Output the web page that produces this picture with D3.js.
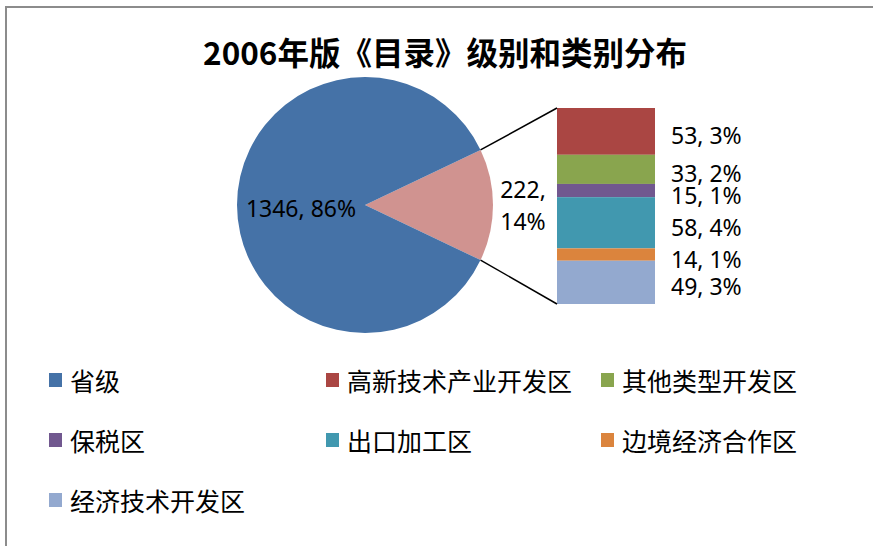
<!DOCTYPE html>
<html>
<head>
<meta charset="utf-8">
<script src="https://cdn.jsdelivr.net/npm/d3@7"></script>
<style>
  body { margin: 0; background: #fff; }
  svg text { font-family: "Noto Sans", "Noto Sans CJK SC", sans-serif; fill: #000; }
</style>
</head>
<body>
<div id="chart"></div>
<script>
const title = "2006年版《目录》级别和类别分布";
const categories = ["省级", "高新技术产业开发区", "其他类型开发区", "保税区", "出口加工区", "边境经济合作区", "经济技术开发区"];
const values = [1346, 53, 33, 15, 58, 14, 49];
const colors = ["#4572A7", "#AA4643", "#89A54E", "#71588F", "#4198AF", "#DB843D", "#93A9CF"];
const otherColor = "#D09390";

function PieOfBar() {
    const width = 873, height = 546;
    const total = d3.sum(values);
    const pct = v => Math.round(v / total * 100) + "%";

    const svg = d3.select("#chart")
        .append("svg")
        .attr("width", width)
        .attr("height", height);

    // frame
    svg.append("rect")
        .attr("x", 6).attr("y", 7)
        .attr("width", width + 20).attr("height", height + 20)
        .attr("fill", "none")
        .attr("stroke", "#8c8c8c")
        .attr("stroke-width", 2);

    svg.append("text")
        .attr("x", 445)
        .attr("y", 51)
        .attr("text-anchor", "middle")
        .attr("dominant-baseline", "central")
        .style("font-family", "'Noto Sans CJK SC', 'Noto Sans', sans-serif")
        .style("font-weight", "bold")
        .style("font-size", "31.5px")
        .text(title);

    // main pie: 省级 vs rest
    const mainValue = values[0];
    const restValues = values.slice(1);
    const restTotal = d3.sum(restValues);
    const cx = 365, cy = 205, r = 128;
    const restAngle = 2 * Math.PI * restTotal / total;
    const start = Math.PI / 2 - restAngle / 2;

    const pie = d3.pie().sort(null).value(d => d.value)
        .startAngle(start).endAngle(start + 2 * Math.PI);
    const slices = pie([
        { key: "rest", value: restTotal, color: otherColor },
        { key: "main", value: mainValue, color: colors[0] }
    ]);
    const arc = d3.arc().innerRadius(0).outerRadius(r);

    const g = svg.append("g").attr("transform", `translate(${cx},${cy})`);
    g.selectAll("path")
        .data(slices)
        .enter()
        .append("path")
        .attr("d", arc)
        .attr("fill", d => d.data.color);

    // bar of the rest
    const barX0 = 557, barX1 = 655;
    const y = d3.scaleLinear().domain([0, restTotal]).range([108, 304]);
    const stacked = [];
    let acc = 0;
    restValues.forEach((v, i) => {
        stacked.push({ v, y0: acc, y1: acc + v, color: colors[i + 1] });
        acc += v;
    });

    svg.selectAll(".seg")
        .data(stacked)
        .enter()
        .append("rect")
        .attr("class", "seg")
        .attr("x", barX0)
        .attr("y", d => y(d.y0))
        .attr("width", barX1 - barX0)
        .attr("height", d => y(d.y1) - y(d.y0))
        .attr("fill", d => d.color);

    // connector lines
    const restSlice = slices[0];
    const pt = a => [cx + r * Math.sin(a), cy - r * Math.cos(a)];
    const pTop = pt(restSlice.startAngle);
    const pBot = pt(restSlice.endAngle);
    [[pTop, [barX0, y(0)]], [pBot, [barX0, y(restTotal)]]].forEach(([a, b]) => {
        svg.append("line")
            .attr("x1", a[0]).attr("y1", a[1])
            .attr("x2", b[0]).attr("y2", b[1])
            .attr("stroke", "#000")
            .attr("stroke-width", 1.5);
    });

    // labels
    const labelSize = "23px";
    const mainC = d3.arc().innerRadius(0).outerRadius(r).centroid(slices[1]);
    g.append("text")
        .attr("x", mainC[0])
        .attr("y", mainC[1] + 3)
        .attr("text-anchor", "middle")
        .attr("dominant-baseline", "central")
        .style("font-size", labelSize)
        .text(`${mainValue}, ${pct(mainValue)}`);

    const outC = d3.arc().innerRadius(r + 30).outerRadius(r + 30).centroid(restSlice);
    const restLabel = g.append("text")
        .attr("text-anchor", "middle")
        .style("font-size", labelSize);
    restLabel.append("tspan").attr("x", outC[0]).attr("y", outC[1] - 16)
        .attr("dominant-baseline", "central").text(`${restTotal},`);
    restLabel.append("tspan").attr("x", outC[0]).attr("y", outC[1] + 16)
        .attr("dominant-baseline", "central").text(pct(restTotal));

    svg.selectAll(".seg-label")
        .data(stacked)
        .enter()
        .append("text")
        .attr("class", "seg-label")
        .attr("x", 671)
        .attr("y", d => (y(d.y0) + y(d.y1)) / 2 + 4)
        .attr("dominant-baseline", "central")
        .style("font-size", labelSize)
        .text(d => `${d.v}, ${pct(d.v)}`);

    // legend
    const colX = [49, 326, 601];
    const rowY = [380, 440, 500];
    const legend = svg.selectAll(".legend")
        .data(categories)
        .enter()
        .append("g")
        .attr("class", "legend")
        .attr("transform", (d, i) => `translate(${colX[i % 3]},${rowY[Math.floor(i / 3)]})`);
    legend.append("rect")
        .attr("x", 0).attr("y", -7)
        .attr("width", 13).attr("height", 14)
        .attr("fill", (d, i) => colors[i]);
    legend.append("text")
        .attr("x", 21)
        .attr("y", 0)
        .attr("dominant-baseline", "central")
        .style("font-family", "'Noto Sans CJK SC', sans-serif")
        .style("font-size", "25px")
        .text(d => d);
}

PieOfBar();
</script>
</body>
</html>
